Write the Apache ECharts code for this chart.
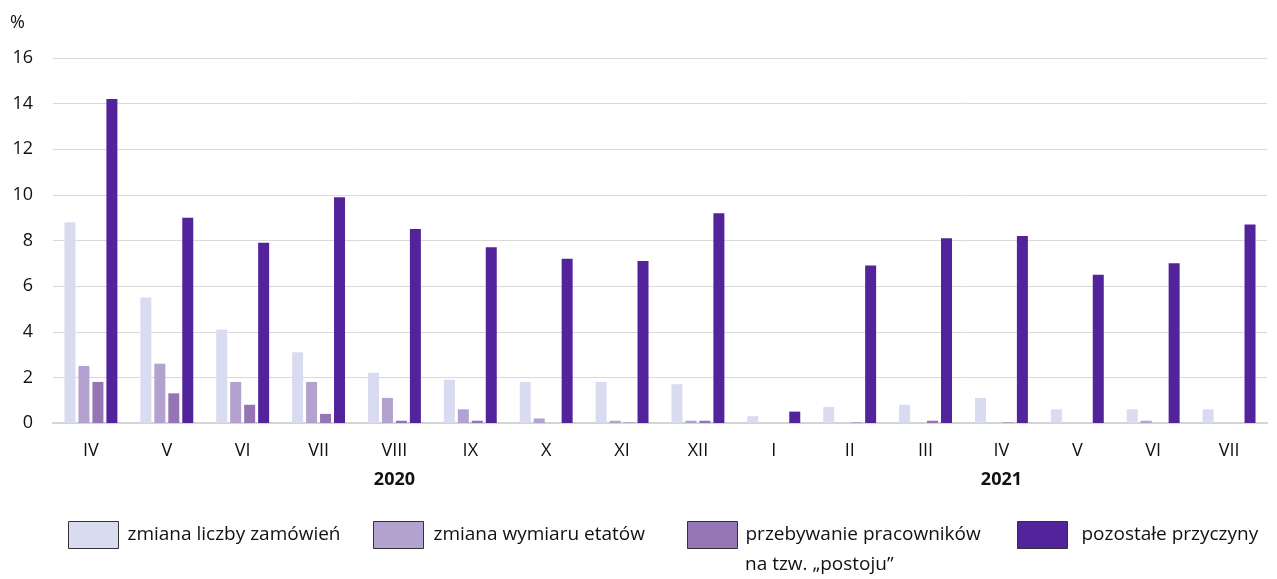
<!DOCTYPE html>
<html>
<head>
<meta charset="utf-8">
<script src="https://cdn.jsdelivr.net/npm/echarts@6/dist/echarts.min.js"></script>
<style>
  html, body { margin: 0; padding: 0; background: #fff; }
  #chart { width: 1277px; height: 579px; }
</style>
</head>
<body>
<div id="chart"></div>
<script>
// miesiące IV 2020 - VII 2021
var months = ['IV','V','VI','VII','VIII','IX','X','XI','XII','I','II','III','IV','V','VI','VII'];
// rok podpisany pod wybraną kategorią
var yearLabels = { 4: '2020', 12: '2021' };

var seriesNames = [
    'zmiana liczby zamówień',
    'zmiana wymiaru etatów',
    'przebywanie pracowników',
    'pozostałe przyczyny'
];
var zamowienia = [8.8, 5.5, 4.1, 3.1, 2.2, 1.9, 1.8, 1.8, 1.7, 0.3, 0.7, 0.8, 1.1, 0.6, 0.6, 0.6];
var etaty      = [2.5, 2.6, 1.8, 1.8, 1.1, 0.6, 0.2, 0.1, 0.1, 0, 0, 0, 0, 0, 0.1, 0];
var postoj     = [1.8, 1.3, 0.8, 0.4, 0.1, 0.1, 0, 0.02, 0.1, 0, 0.02, 0.1, 0.02, 0, 0, 0];
var pozostale  = [14.2, 9.0, 7.9, 9.9, 8.5, 7.7, 7.2, 7.1, 9.2, 0.5, 6.9, 8.1, 8.2, 6.5, 7.0, 8.7];

var colors = ['#d9dbf0', '#b3a2cf', '#9575b4', '#52239a'];
var font = '"Open Sans", sans-serif';

var myChart = echarts.init(document.getElementById('chart'));

function legendAt(name, left, gap) {
    return {
        data: [name],
        left: left,
        top: 521,
        padding: 0,
        icon: 'rect',
        itemWidth: 50,
        itemHeight: 27,
        itemStyle: { borderColor: '#333', borderWidth: 1 },
        selectedMode: false,
        textStyle: { fontFamily: font, fontSize: 19, color: '#111', padding: [2, 0, 0, gap] }
    };
}

var data = [zamowienia, etaty, postoj, pozostale];
var series = data.map(function (d, i) {
    return {
        name: seriesNames[i],
        type: 'bar',
        barWidth: 11,
        barGap: '27%',
        itemStyle: { color: colors[i] },
        data: d
    };
});

var option = {
    animation: false,
    textStyle: { fontFamily: font },
    grid: { left: 53, right: 10, top: 58, bottom: 156 },
    legend: [
        legendAt(seriesNames[0], 68, 4),
        legendAt(seriesNames[1], 373, 5),
        legendAt(seriesNames[2], 687, 3),
        legendAt(seriesNames[3], 1017, 9)
    ],
    graphic: [{
        type: 'text',
        left: 745,
        top: 555,
        style: { text: 'na tzw. „postoju”', font: '19px "Open Sans"', fill: '#111' }
    }],
    xAxis: {
        type: 'category',
        data: months,
        axisLine: { lineStyle: { color: '#d4d4d4', width: 2 } },
        axisTick: { length: 6, lineStyle: { color: '#d4d4d4', width: 2 } },
        axisLabel: {
            interval: 0,
            margin: 17,
            fontFamily: font,
            fontSize: 18,
            color: '#111',
            formatter: function (v, idx) {
                var s = '{mon|' + v + '}';
                if (yearLabels[idx]) s += '\n{yr|' + yearLabels[idx] + '}';
                return s;
            },
            rich: {
                mon: { fontFamily: font, fontSize: 18, color: '#111', lineHeight: 22 },
                yr: { fontFamily: font, fontSize: 18, fontWeight: 'bold', color: '#111', lineHeight: 36 }
            }
        }
    },
    yAxis: {
        type: 'value',
        min: 0,
        max: 16,
        interval: 2,
        name: '%',
        nameGap: 35,
        nameTextStyle: { fontFamily: font, fontSize: 18, color: '#111', align: 'right', verticalAlign: 'middle', padding: [0, 28, 0, 0] },
        axisLabel: { margin: 20, fontFamily: font, fontSize: 18, color: '#111' },
        splitLine: { lineStyle: { color: '#d9d9d9' } }
    },
    series: series
};
myChart.setOption(option);
</script>
</body>
</html>
